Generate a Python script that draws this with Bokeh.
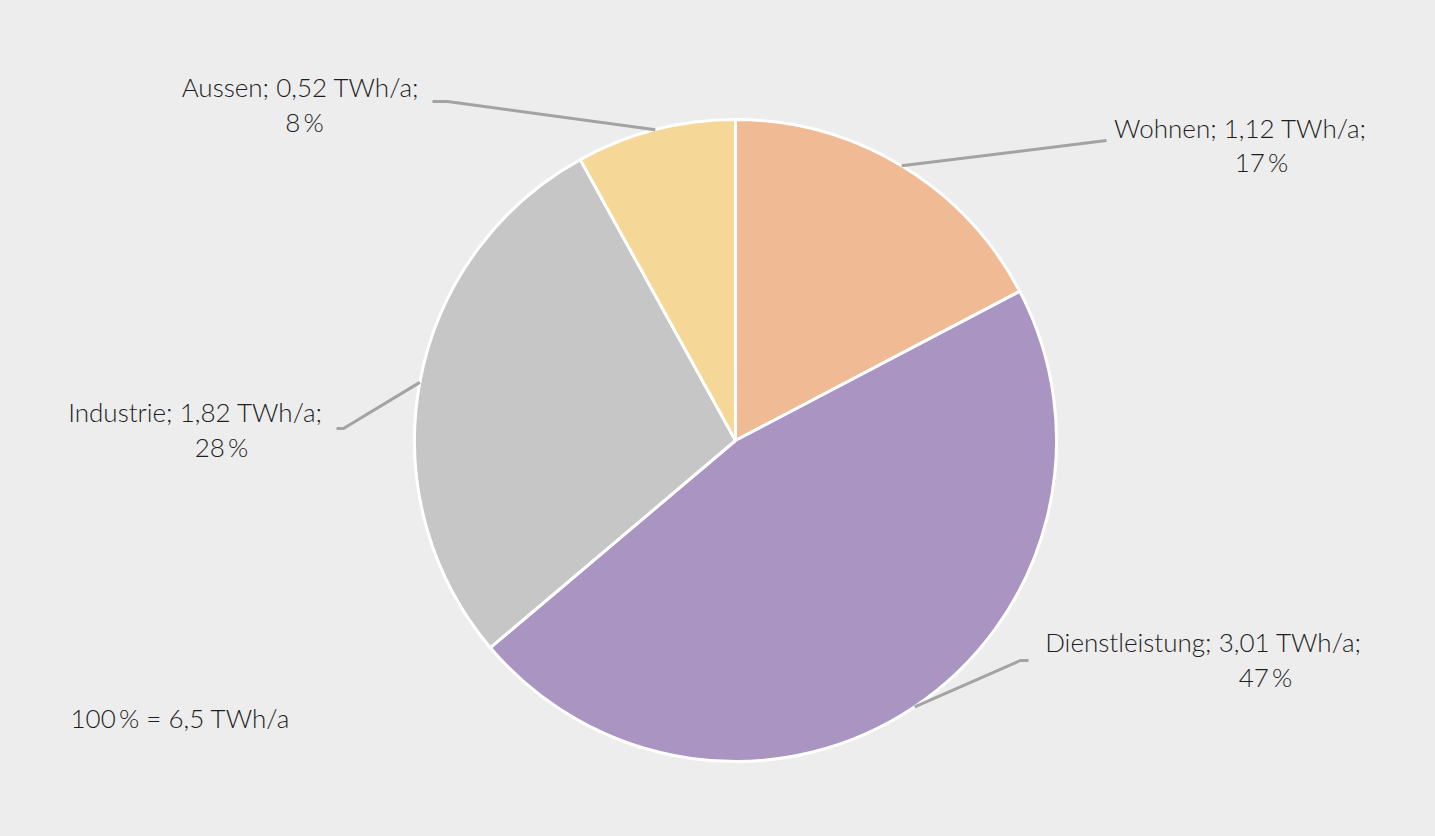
import math
from bokeh.plotting import figure
from bokeh.models import Range1d, ColumnDataSource
from bokeh.core.properties import value
from bokeh.embed import file_html
from bokeh.resources import INLINE

# ---- data ----
categories = ["Wohnen", "Dienstleistung", "Industrie", "Aussen"]
values = [1.12, 3.01, 1.82, 0.52]
value_labels = ["1,12", "3,01", "1,82", "0,52"]
percent_labels = ["17\u2009%", "47\u2009%", "28\u2009%", "8\u2009%"]
total_label = "100\u2009% = 6,5 TWh/a"
unit = "TWh/a"

# ---- styling / layout ----
colors = ["#efba94", "#a994c2", "#c6c6c6", "#f5d798"]
BG = "#ededed"
LINE = "#a3a3a3"
FONT = value("'Lato Light', Lato")
FS = "26px"
W, H = 1435, 836
CX, CY, R = 735, 440, 321          # page coordinates of the pie

def Y(py):  # page y -> data y
    return H - py

# label positions (page coords): first line centre, second line centre
label1_pos = [(1240, 127), (1203, 641), (195, 411), (300, 86)]
label2_pos = [(1261, 161), (1265, 676), (221, 446), (304, 121)]
leader_ends = [
    [(1106, 140)],
    [(1020, 660), (1028, 660)],
    [(343, 428), (336, 428)],
    [(447, 101), (432, 101)],
]

p = figure(width=W, height=H, output_backend="svg", toolbar_location=None,
           x_range=Range1d(0, W), y_range=Range1d(0, H),
           min_border=0, background_fill_color=BG, border_fill_color=BG,
           outline_line_color=None)
p.axis.visible = False
p.grid.visible = False

total = sum(values)
starts, ends, mids = [], [], []
cum = 0.0
for v in values:
    a0 = math.pi / 2 - 2 * math.pi * cum / total
    cum += v
    a1 = math.pi / 2 - 2 * math.pi * cum / total
    starts.append(a0)
    ends.append(a1)
    mids.append((a0 + a1) / 2)

src = ColumnDataSource(dict(start=starts, end=ends, color=colors, cat=categories))
p.wedge(x=CX, y=Y(CY), radius=R, start_angle="start", end_angle="end",
        direction="clock", fill_color="color", line_color="white", line_width=3,
        source=src)

# leader lines
for m, pts in zip(mids, leader_ends):
    xs = [CX + R * math.cos(m)]
    ys = [Y(CY) + R * math.sin(m)]
    for (px, py) in pts:
        xs.append(px)
        ys.append(Y(py))
    p.line(xs, ys, line_color=LINE, line_width=3)

# labels
line1 = [f"{c}; {v} {unit};" for c, v in zip(categories, value_labels)]
p.text(x=[q[0] for q in label1_pos], y=[Y(q[1]) for q in label1_pos], text=line1,
       text_align="center", text_baseline="middle",
       text_font=FONT, text_font_size=FS, text_color="#1e1e1e")
p.text(x=[q[0] for q in label2_pos], y=[Y(q[1]) for q in label2_pos], text=percent_labels,
       text_align="center", text_baseline="middle",
       text_font=FONT, text_font_size=FS, text_color="#1e1e1e")
p.text(x=[70], y=[Y(717)], text=[total_label], text_align="left", text_baseline="middle",
       text_font=FONT, text_font_size=FS, text_color="#1e1e1e")

tpl = "{% block preamble %}<style>body{background:#ededed;margin:0;}</style>{% endblock %}"
open("out.html", "w").write(file_html(p, INLINE, template=tpl))
